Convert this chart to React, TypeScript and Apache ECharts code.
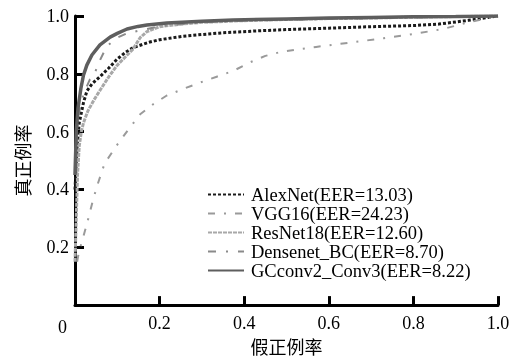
import React, { useEffect, useRef } from "react";
import * as echarts from "echarts";

const seriesNames = [
  "AlexNet(EER=13.03)",
  "VGG16(EER=24.23)",
  "ResNet18(EER=12.60)",
  "Densenet_BC(EER=8.70)",
  "GCconv2_Conv3(EER=8.22)",
];

const alexNet: [number, number][] = [
  [0, 0.4], [0.005, 0.55], [0.01, 0.63], [0.02, 0.7], [0.028, 0.74], [0.04, 0.765],
  [0.059, 0.79], [0.08, 0.82], [0.099, 0.85], [0.12, 0.875], [0.137, 0.89], [0.16, 0.902],
  [0.177, 0.91], [0.2, 0.918], [0.255, 0.93], [0.3, 0.936], [0.35, 0.942], [0.437, 0.949],
  [0.5, 0.953], [0.6, 0.958], [0.7, 0.963], [0.8, 0.967], [0.86, 0.972], [0.93, 0.985], [1.0, 1.0],
];

const vgg16: [number, number][] = [
  [0.005, 0.15], [0.01, 0.19], [0.016, 0.217], [0.028, 0.28], [0.043, 0.366], [0.054, 0.42],
  [0.07, 0.49], [0.1, 0.555], [0.125, 0.605], [0.154, 0.66], [0.185, 0.695], [0.217, 0.725],
  [0.26, 0.75], [0.296, 0.77], [0.335, 0.79], [0.374, 0.81], [0.414, 0.84], [0.45, 0.862],
  [0.49, 0.877], [0.57, 0.893], [0.65, 0.908], [0.73, 0.923], [0.81, 0.94], [0.87, 0.955],
  [0.93, 0.978], [1.0, 1.0],
];

const resNet18: [number, number][] = [
  [0, 0.15], [0.003, 0.3], [0.006, 0.45], [0.01, 0.55], [0.015, 0.6], [0.02, 0.63],
  [0.03, 0.67], [0.045, 0.71], [0.06, 0.745], [0.08, 0.79], [0.1, 0.83], [0.12, 0.86],
  [0.137, 0.885], [0.154, 0.925], [0.17, 0.946], [0.2, 0.963], [0.25, 0.972], [0.3, 0.978],
  [0.4, 0.984], [0.5, 0.988], [0.6, 0.991], [0.7, 0.993], [0.8, 0.996], [0.9, 0.998], [1.0, 1.0],
];

const denseNetBC: [number, number][] = [
  [0, 0.45], [0.005, 0.6], [0.01, 0.67], [0.02, 0.73], [0.035, 0.78], [0.043, 0.79],
  [0.06, 0.85], [0.075, 0.895], [0.1, 0.925], [0.123, 0.94], [0.154, 0.95], [0.2, 0.965],
  [0.3, 0.978], [0.4, 0.984], [0.6, 0.99], [0.8, 0.995], [1.0, 1.0],
];

const gcConv: [number, number][] = [
  [0, 0.45], [0.003, 0.6], [0.007, 0.68], [0.014, 0.75], [0.02, 0.795], [0.028, 0.83],
  [0.04, 0.865], [0.059, 0.9], [0.083, 0.927], [0.1, 0.94], [0.123, 0.955], [0.149, 0.964],
  [0.17, 0.969], [0.217, 0.976], [0.3, 0.982], [0.374, 0.986], [0.5, 0.99], [0.6, 0.993],
  [0.7, 0.995], [0.8, 0.997], [0.9, 0.998], [1.0, 1.0],
];

const xTicks = [0, 0.2, 0.4, 0.6, 0.8, 1.0];
const xTitle = "假正例率";
const yTitle = "真正例率";

const serif = "Liberation Serif";
const cjk = "Noto Sans CJK SC";

export default function App() {
  const ref = useRef<HTMLDivElement>(null);
  useEffect(() => {
    if (!ref.current) return;
    const chart = echarts.init(ref.current, null, { renderer: "svg" });
    const styles = [
      { color: "#1a1a1a", width: 3, type: [3, 2] as any },
      { color: "#9a9a9a", width: 2, type: [7, 9, 2, 9] as any },
      { color: "#a8a8a8", width: 3, type: [4, 1] as any },
      { color: "#8a8a8a", width: 2, type: [8, 10, 2, 10] as any },
      { color: "#5e5e5e", width: 3.5, type: "solid" as any },
    ];
    const datas = [alexNet, vgg16, resNet18, denseNetBC, gcConv];
    const drawOrder = [1, 0, 2, 3, 4];
    chart.setOption({
      animation: false,
      textStyle: { fontFamily: serif },
      grid: { left: 75, right: 20, top: 16, bottom: 49 },
      legend: {
        orient: "vertical",
        left: 202,
        top: 180,
        itemWidth: 36,
        itemHeight: 10,
        itemGap: 0,
        data: seriesNames,
        itemStyle: { opacity: 0 },
        textStyle: { fontFamily: serif, fontSize: 18.5, color: "#000", lineHeight: 18.5, padding: [0, 0, 0, 2] },
      },
      xAxis: {
        type: "value",
        min: 0,
        max: 1,
        interval: 0.2,
        name: xTitle,
        nameLocation: "middle",
        nameGap: 27,
        nameTextStyle: { fontFamily: cjk, fontSize: 18, color: "#000" },
        axisLine: { lineStyle: { color: "#000", width: 3 } },
        axisTick: { inside: true, length: 9, lineStyle: { color: "#000", width: 3 } },
        axisLabel: {
          fontFamily: serif,
          fontSize: 18,
          color: "#000",
          margin: 9,
          formatter: (v: number) => (Math.abs(v) < 1e-9 ? "" : v.toFixed(1)),
        },
        splitLine: { show: false },
      },
      yAxis: {
        type: "value",
        min: 0,
        max: 1,
        interval: 0.2,
        name: yTitle,
        nameLocation: "middle",
        nameGap: 44,
        nameRotate: 90,
        nameTextStyle: { fontFamily: cjk, fontSize: 18, color: "#000" },
        axisLine: { lineStyle: { color: "#000", width: 3 } },
        axisTick: { inside: true, length: 9, lineStyle: { color: "#000", width: 3 } },
        axisLabel: {
          fontFamily: serif,
          fontSize: 18,
          color: "#000",
          margin: 6,
          formatter: (v: number) => (Math.abs(v) < 1e-9 ? "" : v.toFixed(1)),
        },
        splitLine: { show: false },
      },
      graphic: [
        {
          type: "text",
          left: 58,
          top: 318,
          style: { text: String(xTicks[0]), fontFamily: serif, fontSize: 18, fill: "#000" },
        },
      ],
      series: drawOrder.map((i) => ({
        name: seriesNames[i],
        type: "line",
        data: datas[i],
        symbol: "none",
        smooth: false,
        lineStyle: styles[i],
        itemStyle: { color: styles[i].color },
        z: 2 + i,
      })),
    });
    return () => chart.dispose();
  }, []);
  return <div ref={ref} style={{ position: "fixed", left: 0, top: 0, width: 518, height: 360 }} />;
}
